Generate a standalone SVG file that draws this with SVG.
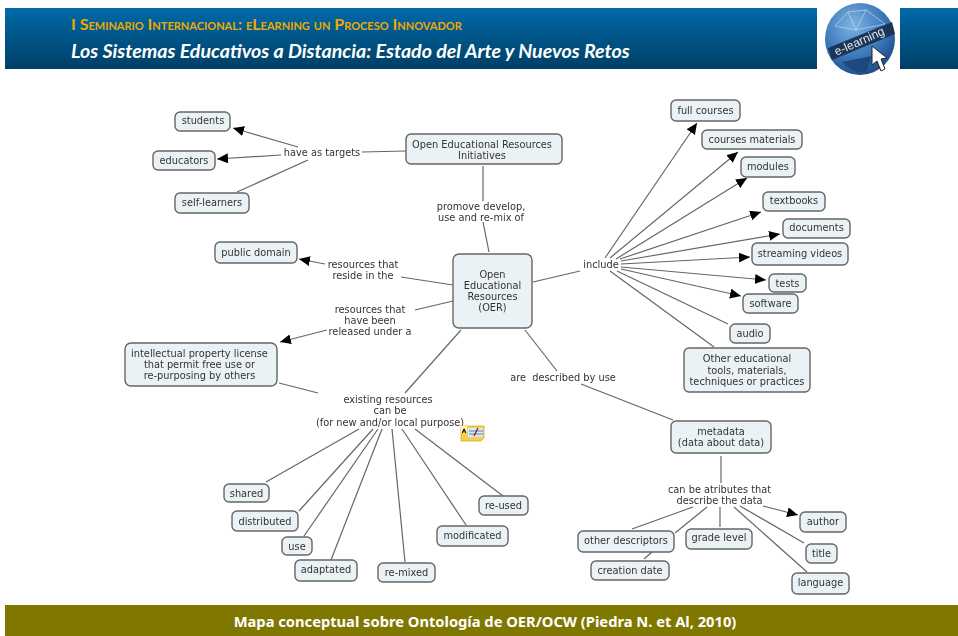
<svg xmlns="http://www.w3.org/2000/svg" width="958" height="636" viewBox="0 0 958 636">
<style>
.n{fill:#ebf2f5;stroke:#666;stroke-width:1.4}
text{font-family:"DejaVu Sans",Verdana,sans-serif;font-size:9.8px;fill:#333;text-anchor:middle;white-space:pre}
.c line{stroke:#666;stroke-width:1.2}
.a{marker-end:url(#ah)}
.h1{font-family:Lato,"Liberation Sans",sans-serif;font-weight:700;font-size:16px;font-variant:small-caps;text-anchor:start;fill:#f0a800}
.h2{font-family:Lato,"Liberation Sans",sans-serif;font-weight:700;font-style:italic;font-size:19.6px;text-anchor:start;fill:#fff}
.f{font-family:"Noto Sans","Liberation Sans",sans-serif;font-weight:700;font-size:14.7px;fill:#fff}
</style>
<defs>
<linearGradient id="bar" x1="0" y1="0" x2="0" y2="1"><stop offset="0" stop-color="#006aa8"/><stop offset="1" stop-color="#003f66"/></linearGradient>
<radialGradient id="gl" cx="0.4" cy="0.3" r="0.8"><stop offset="0" stop-color="#7fb2e2"/><stop offset="0.6" stop-color="#3574b6"/><stop offset="1" stop-color="#1b3f73"/></radialGradient>
<filter id="soft" x="-0.05" y="-0.05" width="1.1" height="1.1"><feGaussianBlur stdDeviation="0.35"/></filter>
<marker id="ah" markerUnits="userSpaceOnUse" markerWidth="12" markerHeight="11" refX="11" refY="5" orient="auto"><path d="M0 0L11 5L0 10Z" fill="#000"/></marker>
</defs>
<rect width="958" height="636" fill="#fff"/>
<g id="header">
<rect x="5" y="8" width="812" height="61" fill="url(#bar)"/>
<rect x="900" y="8" width="58" height="61" fill="url(#bar)"/>
<text class="h1" x="71" y="30">I Seminario Internacional: eLearning un Proceso Innovador</text>
<text class="h2" x="71" y="58">Los Sistemas Educativos a Distancia: Estado del Arte y Nuevos Retos</text>
</g>
<g id="globe" filter="url(#soft)">
<ellipse cx="860" cy="39" rx="35" ry="36" fill="url(#gl)"/>
<path d="M835 26L848 12L866 10L885 24M848 12L856 30L866 10M856 30L835 26M856 30L885 24" fill="none" stroke="#cfe3f5" stroke-width="0.6"/>
<path d="M842 62Q852 74 866 72L872 56L852 60Z" fill="#1d4a7e"/>
<path d="M828 48L892 22L895 34L832 60Z" fill="#1c3558"/>
<text transform="translate(861 45) rotate(-24)" style="font-family:'Liberation Sans',sans-serif;font-size:12px;fill:#dfe8f2">e-learning</text>
<path d="M872 46L872 65L877 61L881 71L885 69L881 59L887 58Z" fill="#fff" stroke="#222" stroke-width="1"/>
</g>
<g id="diagram" filter="url(#soft)">
<g id="connectors" class="c">
<line class="a" x1="298" y1="147" x2="233" y2="128"/>
<line class="a" x1="281" y1="155" x2="217" y2="159"/>
<line x1="308" y1="160" x2="237" y2="192"/>
<line x1="406" y1="151" x2="362" y2="152"/>
<line x1="483" y1="166" x2="483" y2="201"/>
<line x1="483" y1="222" x2="489" y2="252"/>
<line class="a" x1="325" y1="264" x2="299" y2="259"/>
<line x1="453" y1="285" x2="401" y2="277"/>
<line x1="453" y1="301" x2="415" y2="310"/>
<line class="a" x1="327" y1="330" x2="280" y2="342"/>
<line x1="461" y1="330" x2="405" y2="393"/>
<line x1="525" y1="330" x2="557" y2="371"/>
<line x1="581" y1="384" x2="673" y2="420"/>
<line x1="533" y1="282" x2="580" y2="271"/>
<line class="a" x1="605" y1="258" x2="697" y2="123"/>
<line class="a" x1="610" y1="258" x2="738" y2="152"/>
<line class="a" x1="616" y1="259" x2="747" y2="178"/>
<line class="a" x1="620" y1="259" x2="761" y2="212"/>
<line class="a" x1="621" y1="261" x2="780" y2="234"/>
<line class="a" x1="621" y1="264" x2="750" y2="257"/>
<line class="a" x1="621" y1="267" x2="766" y2="280"/>
<line class="a" x1="621" y1="269" x2="741" y2="296"/>
<line x1="617" y1="271" x2="728" y2="324"/>
<line x1="610" y1="271" x2="714" y2="347"/>
<line x1="279" y1="383" x2="318" y2="393"/>
<line x1="359" y1="429" x2="266" y2="482"/>
<line x1="373" y1="429" x2="299" y2="511"/>
<line x1="378" y1="429" x2="304" y2="536"/>
<line x1="382" y1="429" x2="331" y2="560"/>
<line x1="392" y1="429" x2="405" y2="562"/>
<line x1="402" y1="429" x2="466" y2="525"/>
<line x1="415" y1="429" x2="503" y2="496"/>
<line x1="721" y1="456" x2="721" y2="483"/>
<line class="a" x1="763" y1="506" x2="798" y2="515"/>
<line x1="740" y1="506" x2="804" y2="543"/>
<line x1="734" y1="507" x2="807" y2="572"/>
<line x1="720" y1="507" x2="720" y2="527"/>
<line x1="707" y1="507" x2="675" y2="533"/>
<line x1="693" y1="507" x2="632" y2="529"/>
<line x1="652" y1="552" x2="644" y2="559"/>
</g>
<g id="labels">
<text x="322" y="156">have as targets</text>
<text x="481" y="209.500">promove develop,</text>
<text x="481" y="220.500">use and re-mix of</text>
<text x="363" y="267.500">resources that</text>
<text x="363" y="279">reside in the</text>
<text x="370" y="313">resources that</text>
<text x="370" y="324">have been</text>
<text x="370" y="335">released under a</text>
<text x="388" y="403">existing resources</text>
<text x="390" y="414">can be</text>
<text x="390" y="425.500">(for new and/or local purpose)</text>
<text x="601" y="268">include</text>
<text x="563" y="381">are  described by use</text>
<text x="719.500" y="493">can be atributes that</text>
<text x="719.500" y="504">describe the data</text>
</g>
<g id="note-icon">
<path d="M461 426H484V438L481 441H461Z" fill="#f6cf4f" stroke="#e0a820" stroke-width="0.8"/>
<rect x="468" y="428" width="15" height="9" fill="#dbe9f7"/>
<path d="M469 431H483M469 434H483" stroke="#2a6fc0" stroke-width="0.8"/>
<path d="M474 436L478 428" stroke="#a02020" stroke-width="1.4"/>
<rect x="461" y="426" width="6" height="7" fill="#fff3c0"/>
<text x="464" y="432.500" style="font-size:6px;font-weight:700;fill:#000">A</text>
</g>
<g id="students"><rect class="n" x="175" y="112" width="55" height="19" rx="5"/><text x="203" y="124">students</text></g>
<g id="educators"><rect class="n" x="153" y="151" width="62" height="19" rx="5"/><text x="184" y="164">educators</text></g>
<g id="self-learners"><rect class="n" x="175" y="193" width="74" height="20" rx="5"/><text x="212" y="206">self-learners</text></g>
<g id="oer-initiatives"><rect class="n" x="406" y="134" width="156" height="30" rx="5"/><text x="482" y="148">Open Educational Resources</text><text x="482" y="159">Initiatives</text></g>
<g id="public-domain"><rect class="n" x="215" y="242" width="82" height="21" rx="5"/><text x="256" y="256">public domain</text></g>
<g id="oer"><rect class="n" x="453" y="254" width="79" height="74" rx="6"/><text x="492.500" y="277.500">Open</text><text x="492.500" y="289">Educational</text><text x="492.500" y="300">Resources</text><text x="492.500" y="311">(OER)</text></g>
<g id="ip-license"><rect class="n" x="125" y="343" width="152" height="43" rx="6"/><text x="199.500" y="357">intellectual property license</text><text x="199.500" y="368">that permit free use or</text><text x="199.500" y="379">re-purposing by others</text></g>
<g id="shared"><rect class="n" x="224" y="484" width="45" height="18" rx="5"/><text x="246.500" y="496.500">shared</text></g>
<g id="distributed"><rect class="n" x="232" y="511" width="66" height="20" rx="5"/><text x="265" y="524.500">distributed</text></g>
<g id="use"><rect class="n" x="282" y="537" width="30" height="18" rx="5"/><text x="297" y="549.500">use</text></g>
<g id="adaptated"><rect class="n" x="295" y="560" width="62" height="21" rx="5"/><text x="326" y="573">adaptated</text></g>
<g id="re-mixed"><rect class="n" x="378" y="563" width="57" height="19" rx="5"/><text x="406.500" y="576">re-mixed</text></g>
<g id="modificated"><rect class="n" x="437" y="526" width="71" height="20" rx="5"/><text x="472.500" y="539">modificated</text></g>
<g id="re-used"><rect class="n" x="479" y="496" width="49" height="19" rx="5"/><text x="503.500" y="509">re-used</text></g>
<g id="full-courses"><rect class="n" x="671" y="100" width="69" height="21" rx="5"/><text x="705.500" y="114">full courses</text></g>
<g id="courses-materials"><rect class="n" x="702" y="130" width="100" height="19" rx="5"/><text x="752" y="143">courses materials</text></g>
<g id="modules"><rect class="n" x="741" y="157" width="54" height="20" rx="5"/><text x="768" y="170">modules</text></g>
<g id="textbooks"><rect class="n" x="763" y="192" width="62" height="19" rx="5"/><text x="794" y="204">textbooks</text></g>
<g id="documents"><rect class="n" x="783" y="219" width="67" height="19" rx="5"/><text x="816.500" y="231">documents</text></g>
<g id="streaming-videos"><rect class="n" x="752" y="243" width="96" height="22" rx="5"/><text x="800" y="257">streaming videos</text></g>
<g id="tests"><rect class="n" x="769" y="274" width="37" height="18" rx="5"/><text x="787.500" y="286.500">tests</text></g>
<g id="software"><rect class="n" x="743" y="294" width="55" height="19" rx="5"/><text x="770.500" y="307">software</text></g>
<g id="audio"><rect class="n" x="730" y="324" width="40" height="19" rx="5"/><text x="750" y="337">audio</text></g>
<g id="other-tools"><rect class="n" x="684" y="348" width="126" height="44" rx="5"/><text x="747" y="362">Other educational</text><text x="747" y="373.500">tools, materials,</text><text x="747" y="385">techniques or practices</text></g>
<g id="metadata"><rect class="n" x="671" y="421" width="100" height="32" rx="5"/><text x="721" y="434.500">metadata</text><text x="721" y="446">(data about data)</text></g>
<g id="other-descriptors"><rect class="n" x="578" y="531" width="96" height="21" rx="5"/><text x="626" y="544">other descriptors</text></g>
<g id="creation-date"><rect class="n" x="591" y="561" width="78" height="19" rx="5"/><text x="630" y="574">creation date</text></g>
<g id="grade-level"><rect class="n" x="686" y="529" width="66" height="20" rx="5"/><text x="719" y="541">grade level</text></g>
<g id="author"><rect class="n" x="800" y="512" width="46" height="20" rx="5"/><text x="823" y="525">author</text></g>
<g id="title"><rect class="n" x="806" y="544" width="31" height="19" rx="5"/><text x="821.500" y="556.500">title</text></g>
<g id="language"><rect class="n" x="792" y="573" width="57" height="21" rx="5"/><text x="820.500" y="586">language</text></g>
</g>
<g id="footer">
<rect x="5" y="605" width="953" height="31" fill="#7f7700"/>
<text class="f" x="485" y="627">Mapa conceptual sobre Ontología de OER/OCW (Piedra N. et Al, 2010)</text>
</g>
</svg>
